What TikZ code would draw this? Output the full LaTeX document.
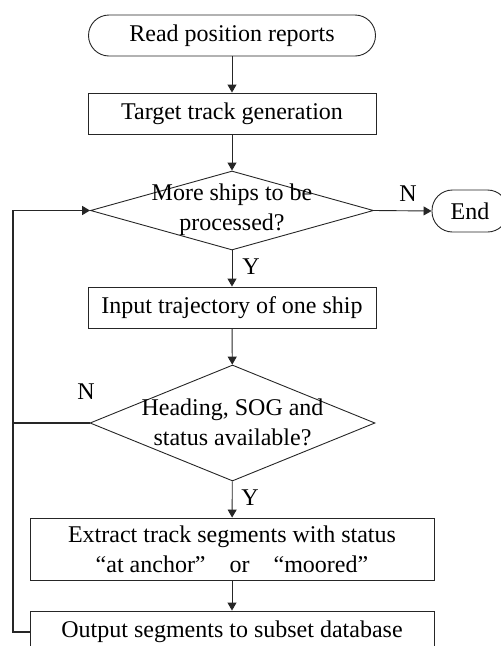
\documentclass[tikz,border=0pt]{standalone}
\usepackage{fontspec}
\setmainfont{Liberation Serif}
\usetikzlibrary{shapes.geometric,arrows.meta}
\begin{document}
\begin{tikzpicture}[x=1pt,y=-1pt,
  every node/.style={font=\fontsize{24}{30}\selectfont, text=black},
  line/.style={draw=black!85, line width=0.9pt},
  arr/.style={line, -{Triangle[length=8pt,width=9pt]}},
  loopline/.style={draw=black!85, line width=1.6pt},
  termbox/.style={line, rectangle, rounded corners=20.5pt, minimum height=41pt, inner sep=0pt},
  procbox/.style={line, rectangle, minimum height=41pt, inner sep=0pt, align=center},
  decision/.style={line, diamond, inner sep=0pt},
  dtext/.style={align=center, inner sep=0pt},
  lab/.style={inner sep=0pt}]
\useasboundingbox (0,0) rectangle (501,646);
\clip (0,0) rectangle (501,646);
\node[termbox, minimum width=287pt] (start) at (232,35.5) {Read position reports};
\node[procbox, minimum width=288pt] (target) at (232,113.5) {Target track generation};
\node[decision, minimum width=283pt, minimum height=79pt] (d1) at (232,210.5) {};
\node[dtext] (d1t) at (232,210) {More ships to be\\processed?};
\node[termbox, minimum width=76pt, minimum height=42pt] (end) at (470,211) {End};
\node[procbox, minimum width=288pt] (input) at (232,307.5) {Input trajectory of one ship};
\node[decision, minimum width=285pt, minimum height=116pt] (d2) at (232.5,423) {};
\node[dtext] (d2t) at (232.5,422) {Heading, SOG and\\status available?};
\node[procbox, minimum width=404pt, minimum height=62pt] (extract) at (232,549) {Extract track segments with status\\“at anchor”\quad or\quad “moored”};
\node[procbox, minimum width=404pt, minimum height=42pt] (output) at (232,632) {Output segments to subset database};
\node[lab] (n1) at (408,194) {N};
\node[lab] (y1) at (251,267) {Y};
\node[lab] (n2) at (86,392) {N};
\node[lab] (y2) at (250,498) {Y};
\coordinate (lb) at (13,632);
\coordinate (lm) at (13,423);
\draw[arr] (start) -- (target);
\draw[arr] (target) -- (d1);
\draw[arr] (d1) -- (input);
\draw[arr] (input) -- (d2);
\draw[arr] (d2) -- (extract);
\draw[arr] (extract) -- (output);
\draw[arr] (d1.east) -- (end.west);
\draw[loopline] (d2.west) -- (lm);
\draw[loopline, -{Triangle[length=8pt,width=9pt]}] (output.west) -- (lb) |- (d1.west);
\end{tikzpicture}
\end{document}
